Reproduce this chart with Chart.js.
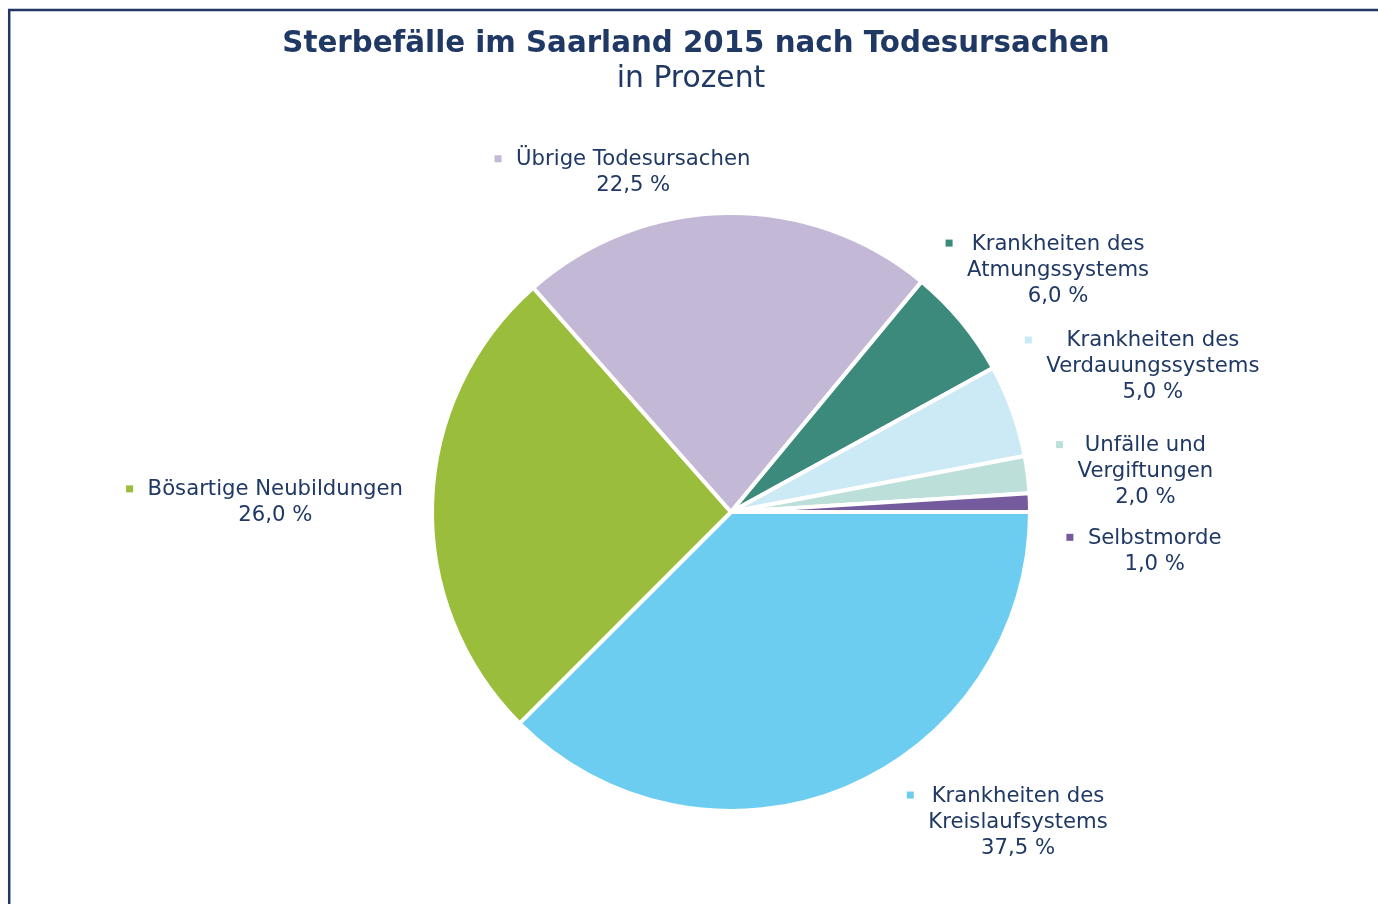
<!DOCTYPE html>
<html lang="de">
<head>
<meta charset="utf-8">
<title>Sterbefälle im Saarland 2015</title>
<script src="https://cdn.jsdelivr.net/npm/chart.js@4/dist/chart.umd.min.js"></script>
<style>
  html, body { margin: 0; padding: 0; background: #fff; }
  canvas { display: block; }
</style>
</head>
<body>
<canvas id="chartSaar" width="1378" height="904"></canvas>
<script>
// categories (line breaks as in the original labels)
const categories = [
  ["Krankheiten des", "Kreislaufsystems"],
  ["Bösartige Neubildungen"],
  ["Übrige Todesursachen"],
  ["Krankheiten des", "Atmungssystems"],
  ["Krankheiten des", "Verdauungssystems"],
  ["Unfälle und", "Vergiftungen"],
  ["Selbstmorde"],
];
const shares = [37.5, 26.0, 22.5, 6.0, 5.0, 2.0, 1.0];
const sliceColors = ["#6ccdf0", "#9abe3c", "#c3b8d6", "#3c8a7c", "#cbeaf6", "#bce0d9", "#765a9e"];

// where each label block sits, in pie radii from the centre (x, first line y)
const labelAnchors = [
  [0.96, 0.95], [-1.524, -0.074], [-0.327, -1.178], [1.094, -0.896],
  [1.411, -0.572], [1.386, -0.222], [1.417, 0.088],
];

const navy = "#1f3864";
const fontFamily = "'DejaVu Sans', Verdana, sans-serif";

const fmt = (v) => v.toFixed(1).replace(".", ",") + " %";

const framePlugin = {
  id: "frame",
  beforeDraw(chart) {
    const ctx = chart.ctx;
    ctx.save();
    ctx.fillStyle = "#fff";
    ctx.fillRect(0, 0, chart.width, chart.height);
    ctx.strokeStyle = navy;
    ctx.lineWidth = 2.5;
    ctx.strokeRect(9.2, 10, 1500, 1000);
    ctx.restore();
  },
};

const textPlugin = {
  id: "texts",
  afterDraw(chart) {
    const ctx = chart.ctx;
    ctx.save();
    ctx.textAlign = "center";
    ctx.textBaseline = "middle";
    ctx.fillStyle = navy;
    ctx.font = "bold 29.3px " + fontFamily;
    ctx.fillText("Sterbefälle im Saarland 2015 nach Todesursachen", 696, 44);
    ctx.font = "29.8px " + fontFamily;
    ctx.fillText("in Prozent", 691, 79);

    const arc0 = chart.getDatasetMeta(0).data[0];
    const cx = arc0.x;
    const cy = arc0.y;
    const r = arc0.outerRadius;
    ctx.font = "21.2px " + fontFamily;
    categories.forEach((lines, i) => {
      const all = lines.concat([fmt(shares[i])]);
      const bx = cx + labelAnchors[i][0] * r;
      const by = cy + labelAnchors[i][1] * r;
      let maxW = 0;
      all.forEach((t) => { maxW = Math.max(maxW, ctx.measureText(t).width); });
      ctx.fillStyle = navy;
      all.forEach((t, k) => ctx.fillText(t, bx, by + k * 26));
      ctx.fillStyle = sliceColors[i];
      const mx = bx - maxW / 2 - 18;
      ctx.fillRect(mx - 3.5, by - 4.5, 7, 7);
    });
    ctx.restore();
  },
};

const ctx = document.getElementById("chartSaar").getContext("2d");
const chartSaar = new Chart(ctx, {
  type: "pie",
  data: {
    labels: categories,
    datasets: [{
      data: shares,
      backgroundColor: sliceColors,
      borderColor: "#ffffff",
      borderWidth: 4,
    }],
  },
  options: {
    responsive: false,
    animation: false,
    rotation: 90,
    layout: {
      padding: {top: 211, bottom: 91, left: 300, right: 216},
    },
    plugins: {
      legend: {display: false},
      tooltip: {enabled: false},
      title: {display: false},
    },
  },
  plugins: [framePlugin, textPlugin],
});
</script>
</body>
</html>
